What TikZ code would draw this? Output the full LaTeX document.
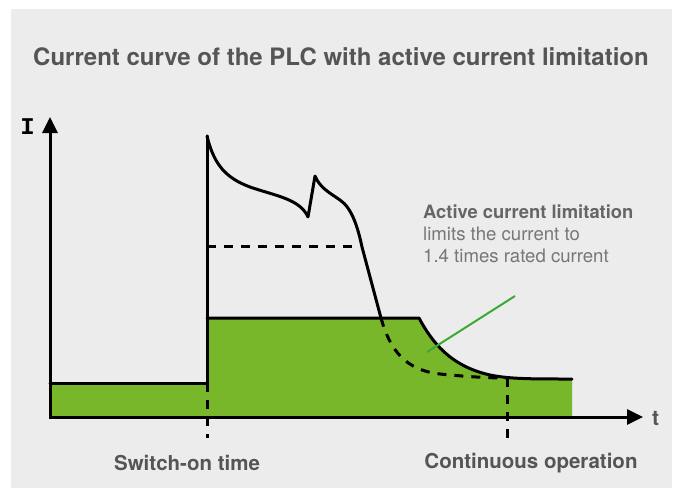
\documentclass[tikz,border=0pt]{standalone}
\usepackage{fontspec}
\setmainfont{TeX Gyre Heros}
\newfontfamily\monofont{Liberation Mono}
\usetikzlibrary{arrows.meta}

\definecolor{panelgrey}{HTML}{ECECEC}
\definecolor{areagreen}{HTML}{78B72A}
\definecolor{pointergreen}{HTML}{3AAA35}
\definecolor{headgrey}{HTML}{555555}
\definecolor{notegrey}{HTML}{666666}
\definecolor{lightnote}{HTML}{777777}

\tikzset{
  curve/.style={line width=3pt, line cap=round, line join=round},
  guide/.style={line width=3pt, dash pattern=on 9pt off 8pt},
  axisline/.style={line width=3pt, {Triangle[width=15pt,length=16pt]}-{Triangle[width=15pt,length=16pt]}},
  heading/.style={font=\bfseries\fontsize{24}{28}\selectfont, text=headgrey, inner sep=0pt},
  caption/.style={font=\bfseries\fontsize{20.5}{24}\selectfont, text=headgrey, inner sep=0pt},
  notebold/.style={font=\bfseries\fontsize{18.4}{22}\selectfont, text=notegrey, inner sep=0pt, anchor=base west},
  notetext/.style={font=\fontsize{18.6}{22}\selectfont, text=lightnote, inner sep=0pt, anchor=base west},
}

\begin{document}
\begin{tikzpicture}[x=1pt, y=-1pt]
  \useasboundingbox (0,0) rectangle (678,488);
  \fill[white] (0,0) rectangle (678,488);
  \fill[panelgrey] (11,9) rectangle (672,488);

  % key points of the plot
  \coordinate (origin) at (50,417);
  \coordinate (ytip) at (50,117);
  \coordinate (xtip) at (643,417);
  \coordinate (on) at (207,383);
  \coordinate (peak) at (207,136);
  \coordinate (limit) at (419,318);
  \coordinate (steady) at (572,379);

  % green areas under the limited current
  \fill[areagreen] (50,383) rectangle (207,417);
  \fill[areagreen] (207,417) -- (207,318) -- (limit)
    .. controls (432,342) and (450,366) .. (490,375)
    .. controls (510,379) and (530,379) .. (steady) -- (572,417) -- cycle;

  % axes
  \draw[axisline] (ytip) -- (origin) -- (xtip);

  % current without limitation
  \draw[curve] (peak)
    .. controls (214,165) and (226,178) .. (250,187)
    .. controls (276,196) and (300,199) .. (308,217)
    -- (315,176)
    .. controls (320,188) and (330,193) .. (340,200)
    .. controls (352,208) and (358,228) .. (362,247)
    -- (381,318);
  \draw[guide] (381,318)
    .. controls (390,350) and (405,370) .. (440,374)
    .. controls (470,377) and (490,378) .. (507,378);

  % current with active limitation
  \draw[curve] (50,383) -- (on) -- (peak);
  \draw[curve] (207,318) -- (limit)
    .. controls (432,342) and (450,366) .. (490,375)
    .. controls (510,379) and (530,379) .. (steady);

  % guide lines
  \draw[guide] (207,246.5) -- (359,246.5);
  \draw[guide] (on) -- (207,438);
  \draw[guide] (507,378) -- (507,438);

  % pointer to the annotation
  \coordinate (ptrstart) at (427,352);
  \coordinate (ptrend) at (515,296);
  \draw[pointergreen, line width=2pt] (ptrstart) -- (ptrend);

  % labels
  \node[heading] (title) at (341,57) {Current curve of the PLC with active current limitation};
  \node[font=\monofont\bfseries\fontsize{24}{28}\selectfont, inner sep=0pt] (ilabel) at (27.5,127) {I};
  \node[font=\bfseries\fontsize{21}{24}\selectfont, text=headgrey, inner sep=0pt] (tlabel) at (655.5,418) {t};
  \node[notebold] (note1) at (423,218) {Active current limitation};
  \node[notetext] (note2) at (423,240) {limits the current to};
  \node[notetext] (note3) at (423,262) {1.4 times rated current};
  \node[caption] (switchon) at (187,463) {Switch-on time};
  \node[caption] (continuous) at (531,463) {Continuous operation};
\end{tikzpicture}
\end{document}
